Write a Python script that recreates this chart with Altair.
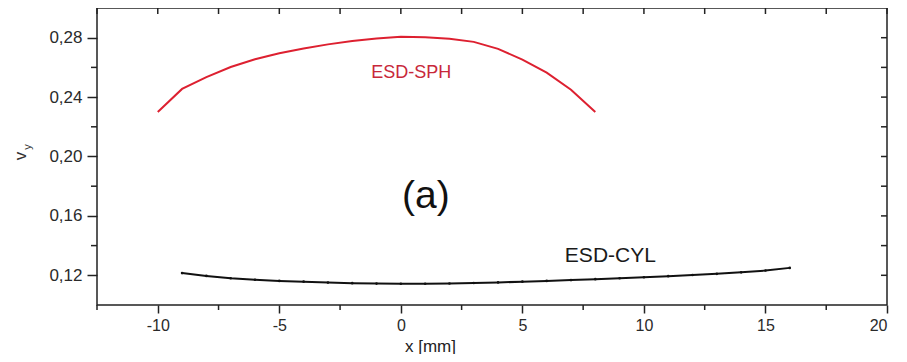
import altair as alt
import pandas as pd

# ESD-SPH (red)
sph_x = [-10, -9, -8, -7, -6, -5, -4, -3, -2, -1, 0, 1, 2, 3, 4, 5, 6, 7, 8]
sph_y = [0.2300, 0.2455, 0.2535, 0.2603, 0.2655, 0.2695, 0.2727, 0.2755, 0.2778, 0.2795,
         0.2806, 0.2803, 0.2793, 0.2772, 0.2725, 0.2652, 0.2565, 0.2450, 0.2300]

# ESD-CYL (black)
cyl_x = list(range(-9, 17))
cyl_y = [0.1215, 0.1196, 0.1180, 0.1170, 0.1162, 0.1157, 0.1151, 0.1147, 0.1144, 0.1143,
         0.1143, 0.1145, 0.1148, 0.1152, 0.1157, 0.1162, 0.1168, 0.1174, 0.1180, 0.1187,
         0.1194, 0.1202, 0.1210, 0.1220, 0.1232, 0.1250]

x_major = [-10, -5, 0, 5, 10, 15, 20]
x_minor = [-12.5, -7.5, -2.5, 2.5, 7.5, 12.5, 17.5]
y_major = [0.12, 0.16, 0.20, 0.24, 0.28]
y_minor = [0.14, 0.18, 0.22, 0.26]

ann_text = ["ESD-SPH", "ESD-CYL"]
ann_x = [0.43, 8.62]
ann_y = [0.256, 0.1329]
ann_color = ["#c8283a", "#1a1a1a"]
ann_size = [18, 21]

W, H = 790, 297
xs = alt.Scale(domain=[-12.5, 20], nice=False, zero=False)
ys = alt.Scale(domain=[0.10, 0.30], nice=False, zero=False)

sph = pd.DataFrame({"x": sph_x, "y": sph_y})
cyl = pd.DataFrame({"x": cyl_x, "y": cyl_y})

xaxis = alt.Axis(values=x_major, title="x [mm]", labelExpr="'' + datum.value",
                 tickSize=8, tickWidth=1.5, tickColor="#222", domain=False, grid=False,
                 labelFont="Arial", labelFontSize=16, labelColor="#2a2a2a", labelPadding=4,
                 titleFont="Arial", titleFontSize=17, titleFontWeight="normal", titleColor="#222",
                 titleX=333, titleY=33, titleAnchor="middle")
yaxis = alt.Axis(values=y_major, title=None,
                 labelExpr="replace(format(datum.value, '.2f'), '.', ',')",
                 tickSize=10, tickWidth=1.5, tickColor="#222", domain=False, grid=False,
                 labelFont="Arial", labelFontSize=17, labelColor="#2a2a2a", labelPadding=5)

base_sph = alt.Chart(sph).mark_line(color="#dd2030", strokeWidth=2).encode(
    x=alt.X("x:Q", scale=xs, axis=xaxis),
    y=alt.Y("y:Q", scale=ys, axis=yaxis),
)
line_cyl = alt.Chart(cyl).mark_line(
    color="#111", strokeWidth=2,
    point=alt.OverlayMarkDef(filled=True, size=7, color="#111")
).encode(x=alt.X("x:Q", scale=xs), y=alt.Y("y:Q", scale=ys))

ann = alt.Chart(pd.DataFrame({"t": ann_text, "x": ann_x, "y": ann_y, "c": ann_color, "s": ann_size})).mark_text(
    font="Arial", baseline="middle", align="center"
).encode(x=alt.X("x:Q", scale=xs), y=alt.Y("y:Q", scale=ys), text="t:N",
         color=alt.Color("c:N", scale=None), size=alt.Size("s:Q", scale=None))

label_a = alt.Chart(pd.DataFrame({"t": ["(a)"], "x": [1.03], "y": [0.1737]})).mark_text(
    font="Arial", fontSize=39, baseline="middle", align="center", color="#111"
).encode(x=alt.X("x:Q", scale=xs), y=alt.Y("y:Q", scale=ys), text="t:N")

# y-axis title: v with subscript y
vt = alt.Chart(pd.DataFrame({"t": ["v"]})).mark_text(
    font="Arial", fontSize=17, angle=270, baseline="middle", align="center", color="#333"
).encode(x=alt.value(-76), y=alt.value(148), text="t:N")
vs = alt.Chart(pd.DataFrame({"t": ["y"]})).mark_text(
    font="Arial", fontSize=11, angle=270, baseline="middle", align="center", color="#333"
).encode(x=alt.value(-69), y=alt.value(139), text="t:N")

# minor ticks (outside, bottom and left)
xmin_df = pd.DataFrame({"x": x_minor})
xall_df = pd.DataFrame({"x": x_major + x_minor})
ymin_df = pd.DataFrame({"y": y_minor})
yall_df = pd.DataFrame({"y": y_major + y_minor})

tick_style = dict(color="#222", strokeWidth=1.5)
bot_minor = alt.Chart(xmin_df).mark_rule(**tick_style).encode(
    x=alt.X("x:Q", scale=xs), y=alt.value(H), y2=alt.value(H + 5))
left_minor = alt.Chart(ymin_df).mark_rule(**tick_style).encode(
    y=alt.Y("y:Q", scale=ys), x=alt.value(0), x2=alt.value(-6))
# mirror ticks (inside, top and right)
top_ticks = alt.Chart(xall_df).mark_rule(**tick_style).encode(
    x=alt.X("x:Q", scale=xs), y=alt.value(0), y2=alt.value(6))
right_ticks = alt.Chart(yall_df).mark_rule(**tick_style).encode(
    y=alt.Y("y:Q", scale=ys), x=alt.value(W), x2=alt.value(W - 6))

chart = alt.layer(
    base_sph, line_cyl, ann, label_a, vt, vs, bot_minor, left_minor, top_ticks, right_ticks
).properties(
    width=W, height=H,
    autosize=alt.AutoSizeParams(type="none"),
    padding={"left": 89, "top": 0, "right": 12, "bottom": 49},
    background="white",
).configure_view(stroke="#222", strokeWidth=1.5)

chart.save("out.html", embed_options={"renderer": "svg", "actions": False})
